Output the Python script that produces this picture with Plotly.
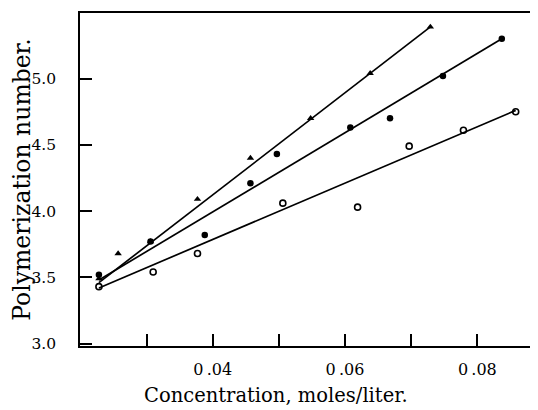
import plotly.graph_objects as go

# Triangles (upper line)
tri_x = [0.0228, 0.0257, 0.0306, 0.0377, 0.0457, 0.0548, 0.0638, 0.0729]
tri_y = [3.49, 3.68, 3.77, 4.09, 4.40, 4.70, 5.04, 5.39]
tri_fit_x = [0.0228, 0.0729]
tri_fit_y = [3.46, 5.39]

# Filled circles (middle line)
dot_x = [0.0228, 0.0306, 0.0388, 0.0457, 0.0497, 0.0608, 0.0668, 0.0748, 0.0837]
dot_y = [3.52, 3.77, 3.82, 4.21, 4.43, 4.63, 4.70, 5.02, 5.30]
dot_fit_x = [0.0228, 0.0837]
dot_fit_y = [3.48, 5.30]

# Open circles (lower line)
open_x = [0.0228, 0.0310, 0.0377, 0.0506, 0.0619, 0.0697, 0.0779, 0.0858]
open_y = [3.43, 3.54, 3.68, 4.06, 4.03, 4.49, 4.61, 4.75]
open_fit_x = [0.0228, 0.0858]
open_fit_y = [3.42, 4.76]

x_tickvals = [0.03, 0.04, 0.05, 0.06, 0.07, 0.08]
x_ticktext = ["", "0\u2009.04", "", "0\u2009.06", "", "0\u2009.08"]
y_tickvals = [3.0, 3.5, 4.0, 4.5, 5.0]
y_ticktext = ["3.0", "3.5", "4.0", "4.5", "5.0"]
x_title = "Concentration, moles/liter."
y_title = "Polymerization number."

font = "DejaVu Serif, Liberation Serif, serif"
fig = go.Figure()
for fx, fy in [(tri_fit_x, tri_fit_y), (dot_fit_x, dot_fit_y), (open_fit_x, open_fit_y)]:
    fig.add_trace(go.Scatter(x=fx, y=fy, mode="lines",
                             line=dict(color="black", width=1.7), showlegend=False))
fig.add_trace(go.Scatter(x=tri_x, y=tri_y, mode="markers",
                         marker=dict(symbol="triangle-up", size=6.5, color="black"), showlegend=False))
fig.add_trace(go.Scatter(x=dot_x, y=dot_y, mode="markers",
                         marker=dict(symbol="circle", size=6.5, color="black"), showlegend=False))
fig.add_trace(go.Scatter(x=open_x, y=open_y, mode="markers",
                         marker=dict(symbol="circle-open", size=6, color="black",
                                     line=dict(width=1.6)), showlegend=False))

fig.add_annotation(text=x_title, xref="paper", yref="paper", x=0.427, y=-0.149,
                   xanchor="center", yanchor="middle", showarrow=False,
                   font=dict(family=font, size=19.5, color="black"))

fig.update_layout(
    width=538, height=410,
    margin=dict(l=71, r=8, t=3, b=72),
    paper_bgcolor="white", plot_bgcolor="white",
    font=dict(family=font, size=16, color="black"),
    xaxis=dict(range=[0.01994, 0.08917], tickvals=x_tickvals, ticktext=x_ticktext,
               ticks="inside", ticklen=12, tickwidth=1.5, tickcolor="black",
               showline=True, linecolor="black", linewidth=1.5, mirror=True,
               showgrid=False, zeroline=False, ticklabelstandoff=8,
               tickfont=dict(size=16)),
    yaxis=dict(range=[2.982, 5.495], tickvals=y_tickvals, ticktext=y_ticktext,
               ticks="inside", ticklen=12, tickwidth=1.5, tickcolor="black",
               showline=True, linecolor="black", linewidth=1.5, mirror=False,
               showgrid=False, zeroline=False, ticklabelstandoff=19,
               tickfont=dict(size=15.5),
               title=dict(text=y_title, standoff=4,
                          font=dict(size=23.5))),
)
fig.write_html("out.html")
